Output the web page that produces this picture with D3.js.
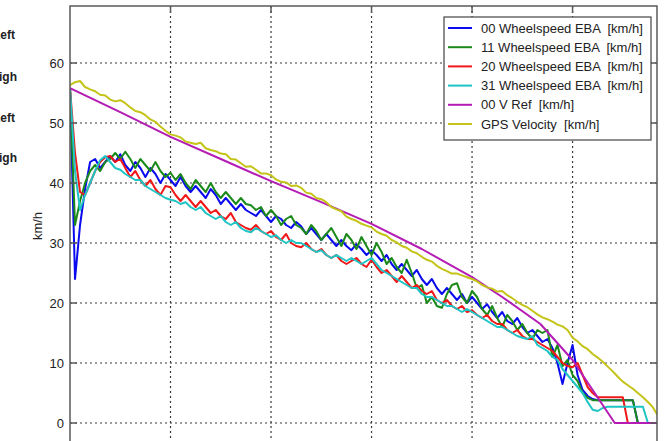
<!DOCTYPE html>
<html>
<head>
<meta charset="utf-8">
<script src="https://cdn.jsdelivr.net/npm/d3@7"></script>
<style>
  body { margin: 0; background: #fff; }
  text { font-family: "Liberation Sans", Arial, sans-serif; }
</style>
</head>
<body>
<script>
// ===============================
// CONFIGURATION
// ===============================
const width = 665;
const height = 441;
const frame = { left: 70, right: 657, top: 6, bottom: 446 };

// ===============================
// DATA (km/h, one sample every 0.05 s)
// ===============================
const dt = 0.05;
const xMax = 5.85;
const yTicks = [0, 10, 20, 30, 40, 50, 60];
const xTicks = [1, 2, 3, 4, 5];
const sideLabels = ["Left", "High", "Left", "High"];

const seriesNames = [
  "00 Wheelspeed EBA  [km/h]",
  "11 Wheelspeed EBA  [km/h]",
  "20 Wheelspeed EBA  [km/h]",
  "31 Wheelspeed EBA  [km/h]",
  "00 V Ref  [km/h]",
  "GPS Velocity  [km/h]"
];
const seriesColors = ["#0a0aee", "#1b8a1b", "#f01818", "#1fc4c4", "#b41cb4", "#c4c418"];

const ws00 = [55.8, 24, 33, 39, 43.5, 44, 42.5, 43.5, 44.5, 43.5, 44.8, 43, 42, 43.5, 42.5, 41, 42.5, 41.5, 40, 41.5,
  40.5, 39.5, 41, 39.5, 38.5, 39.5, 38.5, 37.5, 39, 38, 36.5, 37.5, 36.5, 35.5, 36.5, 35.5, 35, 34.5, 35.5, 34.5,
  33.5, 34.5, 34, 33, 32.5, 33.5, 32.8, 31.5, 32.5, 31.5, 30.5, 31.5, 30.5, 29.5, 30.5, 29.5, 28.8, 29.8, 29, 28,
  28.8, 28, 27, 28, 26.5, 25.5, 26.5, 25.5, 24.5, 25.5, 24, 23, 24, 22.5, 21.5, 22.5, 21.5, 20.5, 21.5, 20,
  21, 20, 19, 19.8, 18.5, 17.5, 18.5, 17, 16.5, 17.5, 16, 15, 15.5, 14.5, 13.5, 14, 12.5, 10, 6.5, 10,
  13, 8, 5.5, 4.5, 4, 3.8, 3.8, 3.8, 3.8, 3.8, 3.8, 3.8, 3.8, 0, 0, 0, 0, 0];

const ws11 = [55.8, 33, 37, 40, 42, 43, 42, 43.5, 44, 45, 44, 45.2, 44, 42.5, 44, 43, 42, 43.5, 42, 41,
  41.7, 40.5, 41.5, 40, 39, 40.5, 39.5, 38.5, 40, 38.5, 37.5, 38.5, 37.5, 36.5, 37.5, 36.5, 36.3, 35.5, 36, 34.5,
  35.5, 34.5, 33, 34, 34.5, 33, 32.5, 31.5, 33, 32, 30.5, 31.5, 32.5, 31, 29.5, 31.5, 30.5, 29, 31, 29.5,
  28, 30, 28.5, 26.5, 27.5, 26, 25, 27.2, 25, 22.5, 23, 20, 21, 19.5, 19.2, 21.5, 23, 23.3, 21, 20,
  22, 21, 19, 18, 19.5, 17.5, 16, 18, 17, 15.5, 16.5, 15, 14, 15.5, 15, 15.5, 11, 13, 9.5, 10.5,
  8, 7, 5, 4.2, 3.8, 3.8, 3.8, 3.8, 3.8, 3.8, 3.8, 3.8, 3.8, 0, 0, 0, 0, 0];

const ws20 = [55.8, 45, 38.5, 38, 40, 42, 43.5, 44.3, 44.5, 43.5, 44, 42.5, 41, 42, 40.5, 39.5, 40.5, 39, 38, 39.5,
  39.3, 38, 37, 38, 37, 36, 37, 36, 35, 35.5, 34.5, 34, 35, 33.5, 33, 32.5, 32.2, 33, 32, 31.5,
  32, 31, 30.5, 31.5, 30, 29.5, 29.3, 30, 29, 28.5, 29, 28, 27.5, 28, 27, 26.5, 27, 27.5, 26.5, 26,
  27.2, 26, 25, 25.5, 24.5, 23.5, 24.5, 23.5, 22.5, 23, 22, 21.5, 22, 20.5, 20, 20.5, 19.5, 19, 19.5, 18.5,
  18.8, 18, 17.5, 18, 17, 16.5, 16.5, 15.5, 15, 15.5, 14.5, 14, 14, 13.5, 13, 12.5, 12, 11, 10, 9.5,
  9.3, 10, 8, 6, 5, 4.3, 4.3, 4.3, 4.3, 4.3, 4.3, 0, 0, 0, 0, 0, 0, 0];

const ws31 = [55.8, 42, 35.5, 38, 40, 42, 43.8, 44.5, 43.5, 42.5, 42.2, 41.5, 41, 40.5, 40.5, 39.5, 39, 38.5, 38, 37.5,
  37.2, 37, 36.5, 36.8, 36, 35.5, 36, 35, 34.5, 34, 34.5, 33.5, 33, 33.5, 32.5, 32, 31.8, 32.5, 32, 31.5,
  31, 31.3, 30.5, 30, 30.5, 30, 30, 29.5, 29, 28.5, 28.8, 28, 27.5, 28, 27.5, 27, 27.5, 27, 26.5, 27,
  27.5, 26.5, 25.5, 25, 24.5, 24, 23.5, 23, 22.5, 22.5, 21.5, 21, 21, 20.5, 20, 19.5, 19.5, 19, 18.5, 19,
  18.5, 18, 17.5, 17, 16.5, 16, 16, 15.5, 15, 14.5, 14.2, 14, 14.5, 13, 12.5, 12, 11, 10.5, 9, 8,
  7, 6, 5, 3.5, 2.2, 2.0, 2.5, 2.7, 2.7, 2.7, 2.7, 2.7, 2.7, 2.7, 2.7, 0, 0, 0];

const gpsVelocity = [56.3, 56.8, 57.0, 56.0, 55.6, 55.3, 54.7, 54.6, 53.9, 53.6, 53.8, 53.3, 52.6, 52.0, 51.8, 51.3, 50.6, 50.2, 49.4, 48.7,
  48.1, 47.9, 47.6, 46.9, 46.7, 46.5, 46.7, 45.8, 45.5, 45.3, 44.9, 44.8, 44.0, 43.9, 43.3, 42.7, 42.8, 42.2, 41.6, 41.6,
  41.3, 40.6, 40.2, 40.1, 39.5, 39.6, 39.2, 38.4, 38.2, 37.5, 37.3, 36.8, 36.0, 35.6, 35.3, 34.4, 34.0, 33.7, 33.2, 32.9,
  32.6, 31.9, 31.5, 31.2, 30.5, 30.1, 29.5, 29.2, 28.6, 28.3, 27.7, 27.2, 26.9, 26.2, 25.7, 25.3, 24.9, 24.9, 24.6, 24.3,
  24.0, 23.6, 23.0, 22.6, 22.4, 21.9, 22.0, 21.3, 20.8, 20.2, 19.7, 19.3, 18.7, 18.1, 17.6, 17.3, 16.9, 16.4, 16.1, 15.5,
  14.2, 13.6, 12.8, 12.3, 11.5, 10.9, 10.2, 9.4, 8.6, 7.7, 6.9, 6.3, 5.7, 5.0, 4.3, 3.5, 2.6, 1.2];

// V Ref is a smooth line: break points only
const vRefTime = [0, 0.5, 1, 1.5, 2, 2.5, 3, 3.5, 4, 4.3, 4.68, 5.0, 5.42, 5.85];
const vRefValue = [55.8, 51.8, 47.7, 44, 40.3, 36.8, 33.2, 29, 24.3, 21, 16.5, 10.5, 0, 0];

// ===============================
// SVG
// ===============================
const svg = d3.select("body")
  .append("svg")
  .attr("width", width)
  .attr("height", height);

const x = d3.scaleLinear().domain([0, xMax]).range([frame.left, 658]);
const y = d3.scaleLinear().domain([0, 60]).range([423, 63]);

svg.append("clipPath").attr("id", "plotClip")
  .append("rect")
  .attr("x", frame.left).attr("y", frame.top)
  .attr("width", frame.right - frame.left).attr("height", frame.bottom - frame.top);

// ===============================
// GRID
// ===============================
const grid = svg.append("g")
  .attr("stroke", "#3a3a3a")
  .attr("stroke-width", 1.2)
  .attr("stroke-dasharray", "2,3");

grid.selectAll(".hgrid")
  .data(yTicks)
  .join("line")
  .attr("x1", frame.left).attr("x2", frame.right)
  .attr("y1", d => y(d)).attr("y2", d => y(d));

grid.selectAll(".vgrid")
  .data(xTicks)
  .join("line")
  .attr("x1", d => x(d)).attr("x2", d => x(d))
  .attr("y1", frame.top).attr("y2", frame.bottom);

// ===============================
// SERIES
// ===============================
const wheelSeries = [ws00, ws11, ws20, ws31];
const line = d3.line()
  .x(d => x(d[0]))
  .y(d => y(d[1]));

const lines = svg.append("g").attr("clip-path", "url(#plotClip)")
  .attr("fill", "none")
  .attr("stroke-width", 2)
  .attr("stroke-linejoin", "round");

wheelSeries.forEach((vals, k) => {
  lines.append("path")
    .attr("d", line(vals.map((v, i) => [i * dt, v])))
    .attr("stroke", seriesColors[k]);
});

lines.append("path")
  .attr("d", line(vRefTime.map((t, i) => [t, vRefValue[i]])))
  .attr("stroke", seriesColors[4]);

lines.append("path")
  .attr("d", line(gpsVelocity.map((v, i) => [i * dt, v])))
  .attr("stroke", seriesColors[5]);

// ===============================
// FRAME + TICKS
// ===============================
const axisColor = "#5a5a5a";
svg.append("rect")
  .attr("x", frame.left).attr("y", frame.top)
  .attr("width", frame.right - frame.left).attr("height", frame.bottom - frame.top)
  .attr("fill", "none")
  .attr("stroke", axisColor)
  .attr("stroke-width", 1.5);

const ticks = svg.append("g").attr("stroke", axisColor).attr("stroke-width", 1.5);
const tickLen = 7;

ticks.selectAll(".yl").data(yTicks).join("line")
  .attr("x1", frame.left).attr("x2", frame.left + tickLen)
  .attr("y1", d => y(d)).attr("y2", d => y(d));
ticks.selectAll(".yr").data(yTicks).join("line")
  .attr("x1", frame.right - tickLen).attr("x2", frame.right)
  .attr("y1", d => y(d)).attr("y2", d => y(d));
ticks.selectAll(".xt").data(xTicks).join("line")
  .attr("x1", d => x(d)).attr("x2", d => x(d))
  .attr("y1", frame.top).attr("y2", frame.top + tickLen);

svg.append("g").selectAll("text")
  .data(yTicks)
  .join("text")
  .attr("x", 64)
  .attr("y", d => y(d))
  .attr("dy", "0.36em")
  .attr("text-anchor", "end")
  .attr("font-size", "13px")
  .attr("fill", "#222")
  .text(d => d);

svg.append("text")
  .attr("transform", "translate(42,226) rotate(-90)")
  .attr("text-anchor", "middle")
  .attr("font-size", "13px")
  .attr("fill", "#222")
  .text("km/h");

// cut-off labels from the neighbouring panel
svg.append("g").selectAll("text")
  .data(sideLabels)
  .join("text")
  .attr("x", (d, i) => i % 2 ? 17 : 15)
  .attr("y", (d, i) => [39, 81, 122, 162][i])
  .attr("text-anchor", "end")
  .attr("font-size", "12px")
  .attr("font-weight", "bold")
  .attr("fill", "#222")
  .text(d => d);

// ===============================
// LEGEND
// ===============================
const legend = svg.append("g");
legend.append("rect")
  .attr("x", 444).attr("y", 17)
  .attr("width", 207).attr("height", 123)
  .attr("fill", "#fff")
  .attr("stroke", "#444")
  .attr("stroke-width", 1.2);

const rows = legend.selectAll(".row")
  .data(seriesNames)
  .join("g")
  .attr("transform", (d, i) => `translate(0,${28 + i * 19.2})`);

rows.append("line")
  .attr("x1", 448).attr("x2", 472)
  .attr("stroke", (d, i) => seriesColors[i])
  .attr("stroke-width", 2);

rows.append("text")
  .attr("x", 481)
  .attr("dy", "0.36em")
  .attr("font-size", "13px")
  .attr("fill", "#222")
  .style("white-space", "pre")
  .text(d => d);
</script>
</body>
</html>
